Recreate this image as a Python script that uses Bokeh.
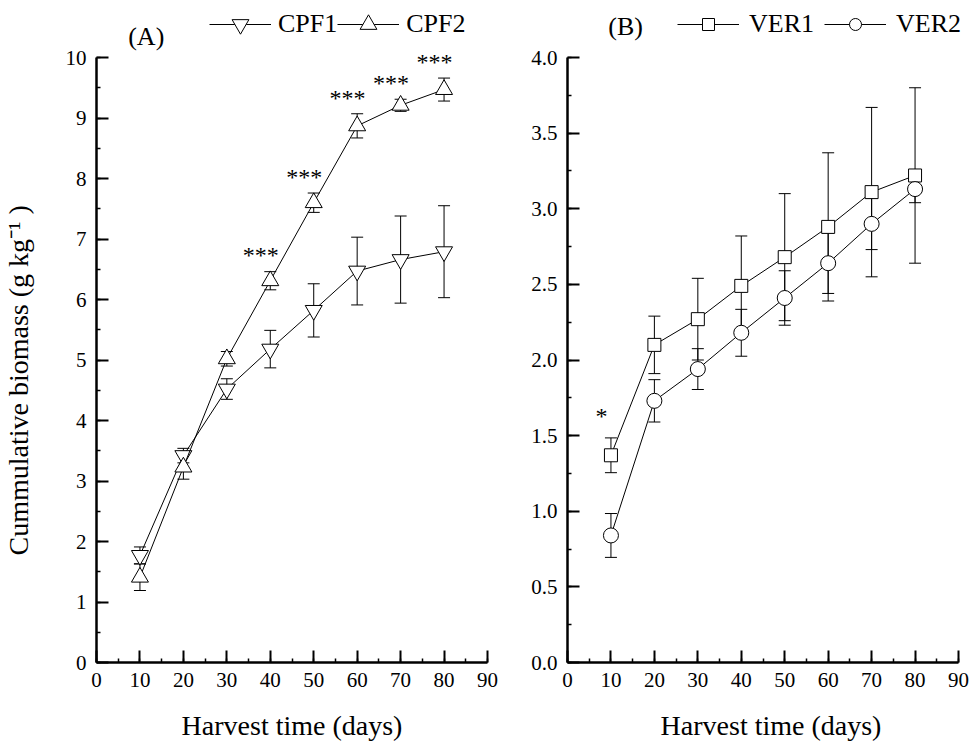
from bokeh.plotting import figure
from bokeh.models import (ColumnDataSource, Whisker, TeeHead, Legend, LegendItem, Label,
                          LabelSet, SingleIntervalTicker, PrintfTickFormatter, Range1d, Title)
from bokeh.layouts import row
from bokeh.embed import file_html
from bokeh.resources import INLINE

# ---------------- data ----------------
days = [10, 20, 30, 40, 50, 60, 70, 80]

cpf1 = [1.77, 3.42, 4.52, 5.18, 5.82, 6.47, 6.66, 6.79]
cpf1_err = [0.14, 0.12, 0.17, 0.31, 0.44, 0.56, 0.72, 0.76]
cpf2 = [1.41, 3.23, 5.02, 6.31, 7.60, 8.87, 9.21, 9.47]
cpf2_err = [0.22, 0.20, 0.12, 0.15, 0.16, 0.20, 0.10, 0.19]

ver1 = [1.37, 2.10, 2.27, 2.49, 2.68, 2.88, 3.11, 3.22]
ver1_err = [0.115, 0.19, 0.27, 0.33, 0.42, 0.49, 0.56, 0.58]
ver2 = [0.84, 1.73, 1.94, 2.18, 2.41, 2.64, 2.90, 3.13]
ver2_err = [0.145, 0.14, 0.135, 0.155, 0.18, 0.20, 0.17, 0.09]

sig_a_days = [40, 50, 60, 70, 80]
sig_a_text = ["***", "***", "***", "***", "***"]
sig_b_days = [10]
sig_b_text = ["*"]

x_label = "Harvest time (days)"
y_label = "Cummulative biomass (g kg\u207b\u00b9 )"

FONT = "Liberation Serif"
FRAME_H = 662   # frame spans canvas y 0..662; axis drawn only up to its top tick
X_PX = 391 / 90  # pixels per day on both panels


def make_fig(width, ymax, yint, fmt, border_left, extra_right, border_right):
    # extend the ranges so the frame also covers the room used by legend/labels
    px_per_unit = (FRAME_H - 57) / ymax
    ytop = ymax + 57 / px_per_unit
    xtop = 90 + extra_right / X_PX
    p = figure(width=width, height=744, x_range=Range1d(0, xtop), y_range=Range1d(0, ytop),
               output_backend="svg", toolbar_location=None,
               min_border_left=border_left, min_border_right=border_right,
               min_border_top=0, min_border_bottom=82)
    p.outline_line_color = None
    p.grid.visible = False
    p.background_fill_color = "white"
    p.border_fill_color = "white"
    p.xaxis.ticker = SingleIntervalTicker(interval=10, num_minor_ticks=2)
    p.yaxis.ticker = SingleIntervalTicker(interval=yint, num_minor_ticks=2)
    p.yaxis.formatter = PrintfTickFormatter(format=fmt)
    p.yaxis.bounds = (0, ymax)
    p.xaxis.bounds = (0, 90)
    for ax in (p.xaxis[0], p.yaxis[0]):
        ax.axis_line_width = 2.5
        ax.axis_line_color = "black"
        ax.major_tick_line_width = 2
        ax.major_tick_line_color = "black"
        ax.minor_tick_line_width = 1.5
        ax.minor_tick_line_color = "black"
        ax.major_tick_in = 12
        ax.major_tick_out = 0
        ax.minor_tick_in = 4
        ax.minor_tick_out = 0
        ax.major_label_text_font = FONT
        ax.major_label_text_font_size = "21px"
        ax.major_label_text_color = "black"
        ax.major_label_standoff = 10
        ax.axis_label_text_font = FONT
        ax.axis_label_text_font_size = "28px"
        ax.axis_label_text_font_style = "normal"
        ax.axis_label_text_color = "black"
    p.xaxis.axis_label = x_label
    p.xaxis.axis_label_standoff = 20
    return p, px_per_unit


def add_series(p, ys, errs, marker, size):
    src = ColumnDataSource(dict(x=days, y=ys,
                                upper=[a + b for a, b in zip(ys, errs)],
                                lower=[a - b for a, b in zip(ys, errs)]))
    w = Whisker(base="x", upper="upper", lower="lower", source=src,
                line_color="black", line_width=1,
                upper_head=TeeHead(size=12, line_color="black", line_width=1),
                lower_head=TeeHead(size=12, line_color="black", line_width=1))
    p.add_layout(w)
    ln = p.line("x", "y", source=src, line_color="black", line_width=1)
    sc = p.scatter("x", "y", source=src, marker=marker, size=size,
                   fill_color="white", line_color="black", line_width=1)
    return ln, sc, src


def add_sig(p, sig_days, sig_text, series, errs, pad, px_per_unit):
    xs, ys = [], []
    for d in sig_days:
        i = days.index(d)
        xs.append(d - 2.2)
        # visual centre of the asterisks is ~13px above the baseline
        ys.append(series[i] + errs[i] + pad - 13.0 / px_per_unit)
    src = ColumnDataSource(dict(x=xs, y=ys, t=sig_text))
    p.add_layout(LabelSet(x="x", y="y", text="t", source=src, text_font=FONT,
                          text_font_size="24px", text_align="center",
                          text_baseline="alphabetic", text_color="black"))


def add_legend(p, items, vx, vy, gh, standoff, spacing):
    leg = Legend(items=items, orientation="horizontal", location=(vx, vy),
                 glyph_width=62, glyph_height=gh, label_standoff=standoff,
                 spacing=spacing, padding=0, margin=0, border_line_color=None,
                 background_fill_alpha=0, label_text_font=FONT,
                 label_text_font_size="26px", label_text_color="black")
    p.add_layout(leg)


# ---------------- panel A ----------------
p1, k1 = make_fig(510, 10, 1, "%d", 95, 0, 23)
# blank spacer label on the axis pushes the real (title) label further left
p1.yaxis.axis_label = " "
p1.yaxis.axis_label_text_font_size = "1px"
p1.yaxis.axis_label_standoff = 25
p1.add_layout(Title(text=y_label, align="left", offset=107, vertical_align="bottom",
                    standoff=0, text_font=FONT, text_font_size="28px",
                    text_font_style="normal", text_color="black"), "left")
l1, s1, _ = add_series(p1, cpf1, cpf1_err, "inverted_triangle", 17)
l2, s2, _ = add_series(p1, cpf2, cpf2_err, "triangle", 17)
add_sig(p1, sig_a_days, sig_a_text, cpf2, cpf2_err, 0.35, k1)
add_legend(p1, [LegendItem(label="CPF1", renderers=[l1, s1]),
                LegendItem(label="CPF2", renderers=[l2, s2])], 113, 617, 42, 7, 0)
p1.add_layout(Label(x=7.3, y=10 + 21 / k1, text="(A)", text_font=FONT,
                    text_font_size="26px", text_align="left", text_baseline="middle",
                    text_color="black"))

# ---------------- panel B ----------------
p2, k2 = make_fig(464, 4.0, 0.5, "%.1f", 57, 16, 0)
l3, s3, _ = add_series(p2, ver1, ver1_err, "square", 13)
l4, s4, _ = add_series(p2, ver2, ver2_err, "circle", 15)
add_sig(p2, sig_b_days, sig_b_text, ver1, ver1_err, 0.18, k2)
add_legend(p2, [LegendItem(label="VER1", renderers=[l3, s3]),
                LegendItem(label="VER2", renderers=[l4, s4])], 110, 623, 30, 10, 10)
p2.add_layout(Label(x=9.4, y=4.0 + 31 / k2, text="(B)", text_font=FONT,
                    text_font_size="26px", text_align="left", text_baseline="middle",
                    text_color="black"))

layout = row(p1, p2)
with open("out.html", "w") as f:
    f.write(file_html(layout, INLINE))
